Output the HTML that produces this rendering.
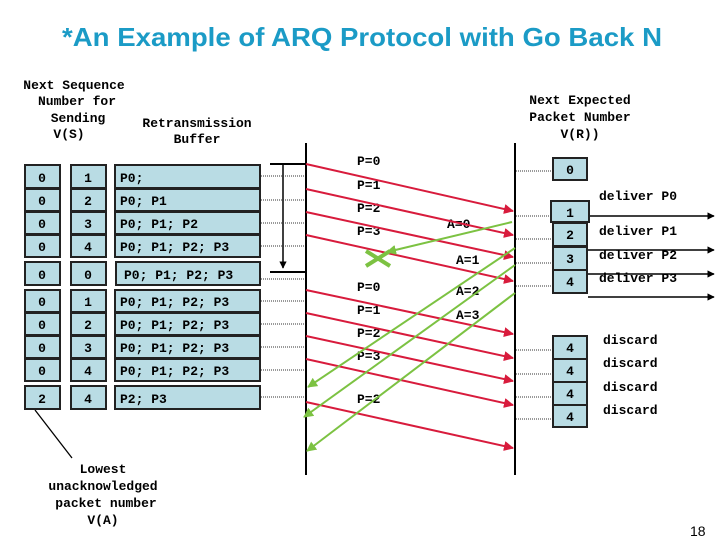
<!DOCTYPE html>
<html><head><meta charset="utf-8"><style>
body{margin:0;background:#fff}
svg text{font-family:"Liberation Mono",monospace;font-weight:bold;font-size:13px;fill:#000}
</style></head><body>
<svg width="720" height="540" viewBox="0 0 720 540" xmlns="http://www.w3.org/2000/svg">
<defs>
<marker id="ar" viewBox="0 0 10 10" refX="9" refY="5" markerWidth="5" markerHeight="5" orient="auto"><path d="M0,0L10,5L0,10z" fill="#d81b3c"/></marker>
<marker id="ag" viewBox="0 0 10 10" refX="9" refY="5" markerWidth="5" markerHeight="5" orient="auto"><path d="M0,0L10,5L0,10z" fill="#7cc242"/></marker>
<marker id="ab" viewBox="0 0 10 10" refX="9" refY="5" markerWidth="5" markerHeight="5" orient="auto"><path d="M0,0L10,5L0,10z" fill="#000"/></marker>
</defs>
<text x="62" y="46" textLength="600" lengthAdjust="spacingAndGlyphs" style="font-family:'Liberation Sans',sans-serif;font-size:26px;fill:#1b9bc6;font-weight:bold">*An Example of ARQ Protocol with Go Back N</text>
<g text-anchor="middle">
<text x="74" y="89">Next Sequence</text><text x="77" y="105">Number for</text><text x="78" y="122">Sending</text><text x="69" y="138">V(S)</text>
<text x="197" y="127">Retransmission</text><text x="197" y="143">Buffer</text>
<text x="580" y="104">Next Expected</text><text x="580" y="121">Packet Number</text><text x="580" y="138">V(R))</text>
<text x="103" y="473">Lowest</text><text x="103" y="490">unacknowledged</text><text x="106" y="507">packet number</text><text x="103" y="524">V(A)</text>
</g>
<text x="690" y="536" style="font-family:'Liberation Sans',sans-serif;font-weight:normal;font-size:14px">18</text>
<line x1="35" y1="410" x2="72" y2="458" stroke="#000" stroke-width="1.3"/>
<g fill="#b9dce4" stroke="#222" stroke-width="2">
<rect x="25" y="165" width="35" height="23"/><rect x="71" y="165" width="35" height="23"/><rect x="115" y="165" width="145" height="23"/>
<rect x="25" y="189" width="35" height="22"/><rect x="71" y="189" width="35" height="22"/><rect x="115" y="189" width="145" height="22"/>
<rect x="25" y="212" width="35" height="22"/><rect x="71" y="212" width="35" height="22"/><rect x="115" y="212" width="145" height="22"/>
<rect x="25" y="235" width="35" height="22"/><rect x="71" y="235" width="35" height="22"/><rect x="115" y="235" width="145" height="22"/>
<rect x="25" y="262" width="35" height="23"/><rect x="71" y="262" width="35" height="23"/><rect x="116" y="262" width="144" height="23"/>
<rect x="25" y="290" width="35" height="22"/><rect x="71" y="290" width="35" height="22"/><rect x="115" y="290" width="145" height="22"/>
<rect x="25" y="313" width="35" height="22"/><rect x="71" y="313" width="35" height="22"/><rect x="115" y="313" width="145" height="22"/>
<rect x="25" y="336" width="35" height="22"/><rect x="71" y="336" width="35" height="22"/><rect x="115" y="336" width="145" height="22"/>
<rect x="25" y="359" width="35" height="22"/><rect x="71" y="359" width="35" height="22"/><rect x="115" y="359" width="145" height="22"/>
<rect x="25" y="386" width="35" height="23"/><rect x="71" y="386" width="35" height="23"/><rect x="115" y="386" width="145" height="23"/>
<rect x="553" y="158" width="34" height="22"/>
<rect x="551" y="201" width="38" height="21"/>
<rect x="553" y="223" width="34" height="23"/><rect x="553" y="247" width="34" height="23"/><rect x="553" y="270" width="34" height="23"/>
<rect x="553" y="336" width="34" height="23"/><rect x="553" y="359" width="34" height="23"/><rect x="553" y="382" width="34" height="23"/><rect x="553" y="405" width="34" height="22"/>
</g>
<g text-anchor="middle">
<text x="42" y="182">0</text><text x="88" y="182">1</text>
<text x="42" y="205">0</text><text x="88" y="205">2</text>
<text x="42" y="228">0</text><text x="88" y="228">3</text>
<text x="42" y="251">0</text><text x="88" y="251">4</text>
<text x="42" y="279">0</text><text x="88" y="279">0</text>
<text x="42" y="306">0</text><text x="88" y="306">1</text>
<text x="42" y="329">0</text><text x="88" y="329">2</text>
<text x="42" y="352">0</text><text x="88" y="352">3</text>
<text x="42" y="375">0</text><text x="88" y="375">4</text>
<text x="42" y="403">2</text><text x="88" y="403">4</text>
<text x="570" y="174">0</text><text x="570" y="217">1</text><text x="570" y="239">2</text><text x="570" y="263">3</text><text x="570" y="286">4</text>
<text x="570" y="352">4</text><text x="570" y="375">4</text><text x="570" y="398">4</text><text x="570" y="421">4</text>
</g>
<g>
<text x="120" y="182">P0;</text><text x="120" y="205">P0; P1</text><text x="120" y="228">P0; P1; P2</text><text x="120" y="251">P0; P1; P2; P3</text>
<text x="124" y="279">P0; P1; P2; P3</text>
<text x="120" y="306">P0; P1; P2; P3</text><text x="120" y="329">P0; P1; P2; P3</text><text x="120" y="352">P0; P1; P2; P3</text><text x="120" y="375">P0; P1; P2; P3</text>
<text x="120" y="403">P2; P3</text>
<text x="357" y="165">P=0</text><text x="357" y="189">P=1</text><text x="357" y="212">P=2</text><text x="357" y="235">P=3</text>
<text x="357" y="291">P=0</text><text x="357" y="314">P=1</text><text x="357" y="337">P=2</text><text x="357" y="360">P=3</text><text x="357" y="403">P=2</text>
<text x="447" y="228">A=0</text><text x="456" y="264">A=1</text><text x="456" y="295">A=2</text><text x="456" y="319">A=3</text>
<text x="599" y="200">deliver P0</text><text x="599" y="235">deliver P1</text><text x="599" y="259">deliver P2</text><text x="599" y="282">deliver P3</text>
<text x="603" y="344">discard</text><text x="603" y="367">discard</text><text x="603" y="391">discard</text><text x="603" y="414">discard</text>
</g>
<g stroke="#000" stroke-width="2">
<line x1="306" y1="143" x2="306" y2="475"/><line x1="515" y1="143" x2="515" y2="475"/>
<line x1="270" y1="164" x2="306" y2="164"/><line x1="270" y1="272" x2="306" y2="272"/>
</g>
<line x1="283" y1="164" x2="283" y2="268" stroke="#000" stroke-width="1.5" marker-end="url(#ab)"/>
<g stroke="#000" stroke-width="1.5" marker-end="url(#ab)">
<line x1="590" y1="216" x2="714" y2="216"/><line x1="588" y1="250" x2="714" y2="250"/><line x1="588" y1="274" x2="714" y2="274"/><line x1="588" y1="297" x2="714" y2="297"/>
</g>
<g stroke="#333" stroke-width="1" stroke-dasharray="1,1">
<line x1="261" y1="176" x2="305" y2="176"/><line x1="261" y1="200" x2="305" y2="200"/><line x1="261" y1="223" x2="305" y2="223"/><line x1="261" y1="246" x2="305" y2="246"/>
<line x1="261" y1="279" x2="305" y2="279"/><line x1="261" y1="301" x2="305" y2="301"/><line x1="261" y1="324" x2="305" y2="324"/><line x1="261" y1="347" x2="305" y2="347"/><line x1="261" y1="370" x2="305" y2="370"/><line x1="261" y1="397" x2="305" y2="397"/>
<line x1="516" y1="171" x2="552" y2="171"/><line x1="516" y1="216" x2="550" y2="216"/><line x1="516" y1="239" x2="552" y2="239"/><line x1="516" y1="263" x2="552" y2="263"/><line x1="516" y1="286" x2="552" y2="286"/>
<line x1="516" y1="350" x2="552" y2="350"/><line x1="516" y1="374" x2="552" y2="374"/><line x1="516" y1="397" x2="552" y2="397"/><line x1="516" y1="419" x2="552" y2="419"/>
</g>
<g stroke="#d81b3c" stroke-width="2" marker-end="url(#ar)">
<line x1="306" y1="164" x2="513" y2="211"/><line x1="306" y1="189" x2="513" y2="235"/><line x1="306" y1="212" x2="513" y2="257"/><line x1="306" y1="235" x2="513" y2="281"/>
<line x1="306" y1="290" x2="513" y2="334"/><line x1="306" y1="313" x2="513" y2="358"/><line x1="306" y1="336" x2="513" y2="381"/><line x1="306" y1="359" x2="513" y2="405"/><line x1="306" y1="402" x2="513" y2="448"/>
</g>
<g stroke="#7cc242" stroke-width="2" marker-end="url(#ag)">
<line x1="512" y1="222" x2="387" y2="252"/><line x1="515" y1="248" x2="308" y2="387"/><line x1="515" y1="265" x2="304" y2="417"/><line x1="515" y1="293" x2="307" y2="451"/>
</g>
<g stroke="#7cc242" stroke-width="4"><line x1="366" y1="251" x2="390" y2="266"/><line x1="366" y1="266" x2="390" y2="251"/></g>
</svg>
</body></html>
